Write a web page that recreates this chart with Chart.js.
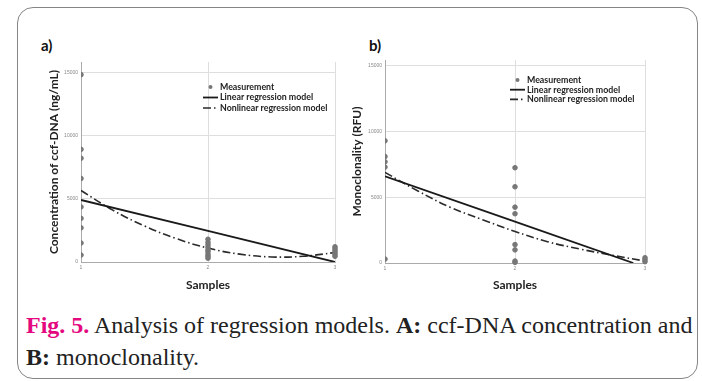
<!DOCTYPE html>
<html>
<head>
<meta charset="utf-8">
<script src="https://cdn.jsdelivr.net/npm/chart.js@4.4.1/dist/chart.umd.min.js"></script>
<style>
  body { margin: 0; background: #fff; width: 702px; height: 381px; overflow: hidden; position: relative; }
  .frame { position: absolute; left: 17px; top: 7px; width: 679px; height: 370px; border: 1.5px solid #858585; border-radius: 16px; }
  .panel { position: absolute; font: bold 15px Lato, sans-serif; color: #111; }
  #wrapA { position: absolute; left: 40px; top: 40px; width: 300px; height: 260px; }
  #wrapB { position: absolute; left: 345px; top: 40px; width: 320px; height: 260px; }
  .caption { position: absolute; left: 26px; top: 309px; font: 24px "Liberation Serif", "Times New Roman", serif; line-height: 32px; color: #222; white-space: nowrap; }
  .caption .fig { color: #e4097f; font-weight: bold; }
  .caption b { font-weight: bold; }
</style>
</head>
<body>
<div class="frame"></div>
<div class="panel" style="left:41px; top:36px;">a)</div>
<div class="panel" style="left:369px; top:36px;">b)</div>
<div id="wrapA"><canvas id="chartA" width="300" height="260"></canvas></div>
<div id="wrapB"><canvas id="chartB" width="320" height="260"></canvas></div>
<div class="caption"><span class="fig">Fig. 5.</span> Analysis of regression models. <b>A:</b> ccf-DNA concentration and<br><b>B:</b> monoclonality.</div>
<script>
const sampleTicks = [1, 2, 3];
const yTicks = [0, 5000, 10000, 15000];

// a) ccf-DNA concentration, measurements per sample
const concSample1 = [14800, 8900, 8200, 6600, 4350, 3450, 2700, 1500, 550];
const concSample2 = [1800, 1550, 1350, 1150, 950, 800, 600, 450, 300];
const concSample3 = [1200, 1050, 900, 750, 600, 450];
const concLinearX = [1, 2, 3];
const concLinearY = [4900, 2450, 0];
const concNonlinX = [1, 1.25, 1.5, 1.75, 2, 2.25, 2.5, 2.75, 3];
const concNonlinY = [5650, 4100, 2850, 1850, 1100, 620, 400, 450, 750];

// b) monoclonality
const monoSample1 = [9300, 8100, 7700, 7300, 300];
const monoSample2 = [7250, 5800, 4250, 3750, 1400, 1000, 150, 50];
const monoSample3 = [400, 250, 100];
const monoLinearX = [1, 2, 2.91];
const monoLinearY = [6600, 3150, 0];
const monoNonlinX = [1, 1.25, 1.5, 1.75, 2, 2.25, 2.5, 2.75, 3];
const monoNonlinY = [6900, 5500, 4250, 3300, 2400, 1620, 1065, 585, 150];

const legendLabels = ["Measurement", "Linear regression model", "Nonlinear regression model"];

function samplePoints(s1, s2, s3) {
    const pts = [];
    s1.forEach(v => pts.push({ x: 1, y: v }));
    s2.forEach(v => pts.push({ x: 2, y: v }));
    s3.forEach(v => pts.push({ x: 3, y: v }));
    return pts;
}

function linePoints(xs, ys) {
    return xs.map((x, i) => ({ x: x, y: ys[i] }));
}

// small legend drawn inside the plot, like the SPSS output
const innerLegend = {
    id: "innerLegend",
    afterDraw(chart, args, opts) {
        const ctx = chart.ctx;
        ctx.save();
        ctx.font = "bold 8.8px Lato, sans-serif";
        ctx.textBaseline = "middle";
        chart.data.datasets.forEach((ds, i) => {
            const y = opts.y + i * opts.gap;
            if (ds.showLine) {
                ctx.strokeStyle = ds.borderColor;
                ctx.lineWidth = ds.borderWidth;
                ctx.setLineDash(ds.borderDash || []);
                ctx.beginPath();
                ctx.moveTo(opts.lineX, y);
                ctx.lineTo(opts.lineX + 15, y);
                ctx.stroke();
                ctx.setLineDash([]);
            } else {
                ctx.fillStyle = ds.backgroundColor;
                ctx.beginPath();
                ctx.arc(opts.lineX + 7.5, y, 2, 0, Math.PI * 2);
                ctx.fill();
            }
            ctx.fillStyle = "#222";
            ctx.fillText(ds.label, opts.textX, y);
        });
        ctx.restore();
    }
};

function makeChart(id, dots, linPts, nonPts, yMax, yTitle, box) {
    new Chart(document.getElementById(id), {
        type: "scatter",
        data: {
            datasets: [
                { label: legendLabels[0], data: dots, backgroundColor: "#777", borderColor: "#777",
                  pointRadius: 2.3, pointHoverRadius: 2.3, clip: { left: 0, top: 8, right: 8, bottom: 8 } },
                { label: legendLabels[1], data: linPts, showLine: true, borderColor: "#1a1a1a",
                  borderWidth: 1.8, pointRadius: 0, fill: false },
                { label: legendLabels[2], data: nonPts, showLine: true, borderColor: "#2a2a2a",
                  borderWidth: 1.6, borderDash: [8, 3, 1.5, 3], pointRadius: 0, fill: false, tension: 0.4 }
            ]
        },
        options: {
            responsive: false,
            animation: false,
            layout: { padding: { left: 0, right: box.right, top: box.top, bottom: 0 } },
            plugins: {
                legend: { display: false },
                tooltip: { enabled: false },
                innerLegend: box.legend
            },
            scales: {
                x: {
                    type: "linear", min: 1, max: 3,
                    afterBuildTicks: s => { s.ticks = sampleTicks.map(v => ({ value: v })); },
                    afterFit: s => { s.height = box.xh; s.paddingLeft = 0; s.paddingRight = 0; },
                    grid: { color: "#dedede", drawTicks: false },
                    border: { color: "#aaa", width: 1 },
                    ticks: { font: { size: 5 }, color: "#888", padding: 3, maxRotation: 0, callback: v => String(v) },
                    title: { display: true, text: "Samples", color: "#222",
                             font: { family: "Lato", weight: "bold", size: 12 }, padding: { top: 0, bottom: 8 } }
                },
                y: {
                    min: 0, max: yMax,
                    afterBuildTicks: s => { s.ticks = yTicks.map(v => ({ value: v })); },
                    afterFit: s => { s.width = box.yw; s.paddingTop = 0; s.paddingBottom = 0; },
                    grid: { color: "#dedede", drawTicks: false },
                    border: { color: "#aaa", width: 1 },
                    ticks: { font: { size: 5 }, color: "#888", padding: 3, callback: v => String(v) },
                    title: { display: true, text: yTitle, color: "#222",
                             font: { family: "Lato", weight: "bold", size: 12 }, padding: { top: box.tp, bottom: 0 } }
                }
            }
        },
        plugins: [innerLegend]
    });
}

makeChart("chartA",
    samplePoints(concSample1, concSample2, concSample3),
    linePoints(concLinearX, concLinearY),
    linePoints(concNonlinX, concNonlinY),
    15800, "Concentration of ccf-DNA (ng/mL)",
    { right: 5, top: 22, xh: 38, yw: 41, tp: 7, legend: { lineX: 163, textX: 180, y: 47, gap: 10.5 } });

makeChart("chartB",
    samplePoints(monoSample1, monoSample2, monoSample3),
    linePoints(monoLinearX, monoLinearY),
    linePoints(monoNonlinX, monoNonlinY),
    15450, "Monoclonality (RFU)",
    { right: 20, top: 20, xh: 37, yw: 40, tp: 5, legend: { lineX: 165, textX: 182, y: 40, gap: 9.7 } });
</script>
</body>
</html>
